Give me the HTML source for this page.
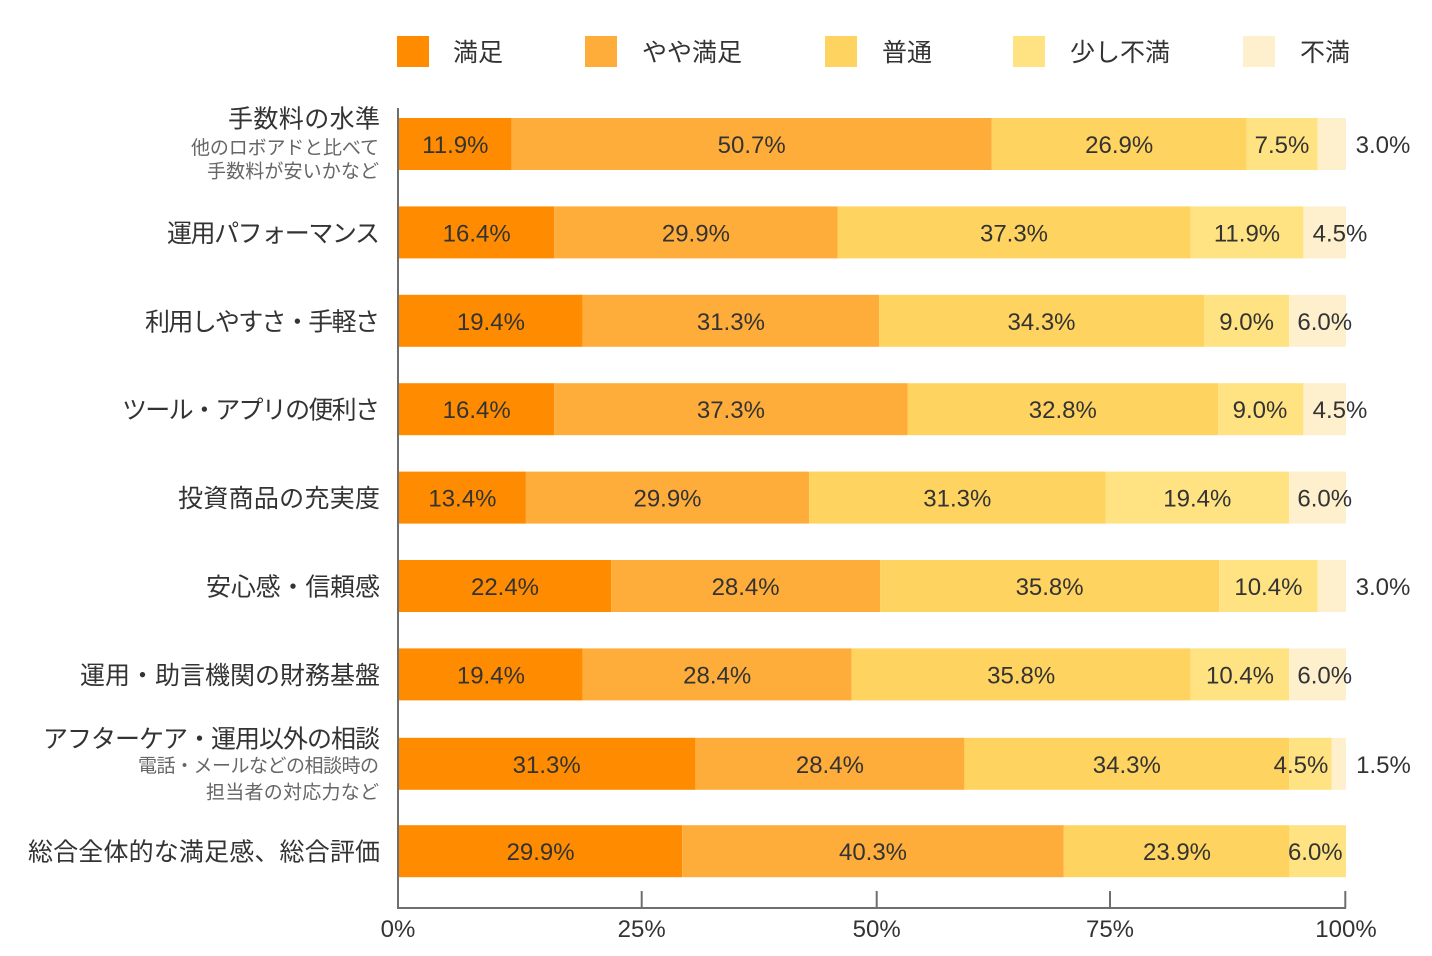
<!DOCTYPE html>
<html><head><meta charset="utf-8"><style>
html,body{margin:0;padding:0;background:#fff;}
svg{display:block;}
text{font-family:"Liberation Sans","Noto Sans CJK JP",sans-serif;}
</style></head><body>
<svg width="1432" height="956" viewBox="0 0 1432 956" xmlns="http://www.w3.org/2000/svg">
<!-- legend -->
<g>
<rect x="397" y="36" width="32" height="31" fill="#FF8C00"/>
<text x="453" y="61" font-size="25" fill="#333">満足</text>
<rect x="585" y="36" width="32" height="31" fill="#FFAD3A"/>
<text x="642" y="61" font-size="25" fill="#333">やや満足</text>
<rect x="825" y="36" width="32" height="31" fill="#FFD35F"/>
<text x="882" y="61" font-size="25" fill="#333">普通</text>
<rect x="1013" y="36" width="32" height="31" fill="#FFE382"/>
<text x="1070" y="61" font-size="25" fill="#333">少し不満</text>
<rect x="1243" y="36" width="32" height="31" fill="#FFF0CD"/>
<text x="1300" y="61" font-size="25" fill="#333">不満</text>
</g>

<!-- bars -->
<g>
<rect x="399" y="118" width="112.7" height="52" fill="#FF8C00"/>
<rect x="511.7" y="118" width="480.1" height="52" fill="#FFAD3A"/>
<rect x="991.8" y="118" width="254.8" height="52" fill="#FFD35F"/>
<rect x="1246.6" y="118" width="71" height="52" fill="#FFE382"/>
<rect x="1317.6" y="118" width="28.4" height="52" fill="#FFF0CD"/>

<rect x="399" y="206.4" width="155.3" height="52" fill="#FF8C00"/>
<rect x="554.3" y="206.4" width="283.2" height="52" fill="#FFAD3A"/>
<rect x="837.5" y="206.4" width="353.2" height="52" fill="#FFD35F"/>
<rect x="1190.7" y="206.4" width="112.7" height="52" fill="#FFE382"/>
<rect x="1303.4" y="206.4" width="42.6" height="52" fill="#FFF0CD"/>

<rect x="399" y="294.8" width="183.7" height="52" fill="#FF8C00"/>
<rect x="582.7" y="294.8" width="296.4" height="52" fill="#FFAD3A"/>
<rect x="879.1" y="294.8" width="324.9" height="52" fill="#FFD35F"/>
<rect x="1204" y="294.8" width="85.2" height="52" fill="#FFE382"/>
<rect x="1289.2" y="294.8" width="56.8" height="52" fill="#FFF0CD"/>

<rect x="399" y="383.2" width="155.3" height="52" fill="#FF8C00"/>
<rect x="554.3" y="383.2" width="353.2" height="52" fill="#FFAD3A"/>
<rect x="907.5" y="383.2" width="310.7" height="52" fill="#FFD35F"/>
<rect x="1218.2" y="383.2" width="85.2" height="52" fill="#FFE382"/>
<rect x="1303.4" y="383.2" width="42.6" height="52" fill="#FFF0CD"/>

<rect x="399" y="471.6" width="126.9" height="52" fill="#FF8C00"/>
<rect x="525.9" y="471.6" width="283.2" height="52" fill="#FFAD3A"/>
<rect x="809.1" y="471.6" width="296.4" height="52" fill="#FFD35F"/>
<rect x="1105.5" y="471.6" width="183.7" height="52" fill="#FFE382"/>
<rect x="1289.2" y="471.6" width="56.8" height="52" fill="#FFF0CD"/>

<rect x="399" y="560" width="212.1" height="52" fill="#FF8C00"/>
<rect x="611.1" y="560" width="269" height="52" fill="#FFAD3A"/>
<rect x="880.1" y="560" width="339" height="52" fill="#FFD35F"/>
<rect x="1219.1" y="560" width="98.5" height="52" fill="#FFE382"/>
<rect x="1317.6" y="560" width="28.4" height="52" fill="#FFF0CD"/>

<rect x="399" y="648.4" width="183.7" height="52" fill="#FF8C00"/>
<rect x="582.7" y="648.4" width="269" height="52" fill="#FFAD3A"/>
<rect x="851.7" y="648.4" width="339" height="52" fill="#FFD35F"/>
<rect x="1190.7" y="648.4" width="98.5" height="52" fill="#FFE382"/>
<rect x="1289.2" y="648.4" width="56.8" height="52" fill="#FFF0CD"/>

<rect x="399" y="737.8" width="296.4" height="52" fill="#FF8C00"/>
<rect x="695.4" y="737.8" width="269" height="52" fill="#FFAD3A"/>
<rect x="964.4" y="737.8" width="324.8" height="52" fill="#FFD35F"/>
<rect x="1289.2" y="737.8" width="42.6" height="52" fill="#FFE382"/>
<rect x="1331.8" y="737.8" width="14.2" height="52" fill="#FFF0CD"/>

<rect x="399" y="825.2" width="283.2" height="52" fill="#FF8C00"/>
<rect x="682.2" y="825.2" width="381.6" height="52" fill="#FFAD3A"/>
<rect x="1063.8" y="825.2" width="225.6" height="52" fill="#FFD35F"/>
<rect x="1289.4" y="825.2" width="56.6" height="52" fill="#FFE382"/>
</g>

<!-- value labels -->
<g font-size="24" fill="#333" text-anchor="middle">
<text x="455.3" y="153">11.9%</text>
<text x="751.7" y="153">50.7%</text>
<text x="1119.2" y="153">26.9%</text>
<text x="1282" y="153">7.5%</text>
<text x="1383" y="153">3.0%</text>

<text x="476.7" y="241.5">16.4%</text>
<text x="695.9" y="241.5">29.9%</text>
<text x="1014" y="241.5">37.3%</text>
<text x="1247" y="241.5">11.9%</text>
<text x="1340" y="241.5">4.5%</text>

<text x="490.9" y="329.8">19.4%</text>
<text x="730.9" y="329.8">31.3%</text>
<text x="1041.5" y="329.8">34.3%</text>
<text x="1246.6" y="329.8">9.0%</text>
<text x="1324.7" y="329.8">6.0%</text>

<text x="476.7" y="418.2">16.4%</text>
<text x="730.9" y="418.2">37.3%</text>
<text x="1062.8" y="418.2">32.8%</text>
<text x="1260" y="418.2">9.0%</text>
<text x="1340" y="418.2">4.5%</text>

<text x="462.4" y="506.6">13.4%</text>
<text x="667.5" y="506.6">29.9%</text>
<text x="957.3" y="506.6">31.3%</text>
<text x="1197.3" y="506.6">19.4%</text>
<text x="1324.7" y="506.6">6.0%</text>

<text x="505" y="595">22.4%</text>
<text x="745.6" y="595">28.4%</text>
<text x="1049.6" y="595">35.8%</text>
<text x="1268.4" y="595">10.4%</text>
<text x="1383" y="595">3.0%</text>

<text x="490.9" y="683.4">19.4%</text>
<text x="717.2" y="683.4">28.4%</text>
<text x="1021.2" y="683.4">35.8%</text>
<text x="1240" y="683.4">10.4%</text>
<text x="1324.7" y="683.4">6.0%</text>

<text x="546.7" y="772.8">31.3%</text>
<text x="829.9" y="772.8">28.4%</text>
<text x="1126.8" y="772.8">34.3%</text>
<text x="1301" y="772.8">4.5%</text>
<text x="1383.5" y="772.8">1.5%</text>

<text x="540.6" y="860.2">29.9%</text>
<text x="873" y="860.2">40.3%</text>
<text x="1177" y="860.2">23.9%</text>
<text x="1315.3" y="860.2">6.0%</text>
</g>

<!-- category labels -->
<g font-size="25" fill="#333" text-anchor="end">
<text x="380" y="127.5" textLength="152" lengthAdjust="spacing">手数料の水準</text>
<text x="380" y="241.9" textLength="213" lengthAdjust="spacing">運用パフォーマンス</text>
<text x="380" y="330.3" textLength="235" lengthAdjust="spacing">利用しやすさ・手軽さ</text>
<text x="380" y="418.7" textLength="258" lengthAdjust="spacing">ツール・アプリの便利さ</text>
<text x="380" y="507.1" textLength="202" lengthAdjust="spacing">投資商品の充実度</text>
<text x="380" y="595.5" textLength="174" lengthAdjust="spacing">安心感・信頼感</text>
<text x="380" y="683.9" textLength="300" lengthAdjust="spacing">運用・助言機関の財務基盤</text>
<text x="380" y="747.5" textLength="337" lengthAdjust="spacing">アフターケア・運用以外の相談</text>
<text x="380" y="860.7" textLength="352" lengthAdjust="spacing">総合全体的な満足感、総合評価</text>
</g>
<g font-size="19" fill="#666" text-anchor="end">
<text x="379" y="154" textLength="188" lengthAdjust="spacing">他のロボアドと比べて</text>
<text x="379" y="177.3" textLength="172" lengthAdjust="spacing">手数料が安いかなど</text>
<text x="379" y="772" textLength="241" lengthAdjust="spacing">電話・メールなどの相談時の</text>
<text x="379" y="798.5" textLength="173" lengthAdjust="spacing">担当者の対応力など</text>
</g>

<!-- axes -->
<g stroke="#6e6e6e" stroke-width="2" fill="none">
<line x1="398" y1="108" x2="398" y2="909"/>
<line x1="397" y1="908" x2="1346" y2="908"/>
<line x1="641.7" y1="891" x2="641.7" y2="908"/>
<line x1="876.7" y1="891" x2="876.7" y2="908"/>
<line x1="1110" y1="891" x2="1110" y2="908"/>
<line x1="1345.3" y1="891" x2="1345.3" y2="908"/>
</g>
<g font-size="24" fill="#333" text-anchor="middle">
<text x="398" y="937">0%</text>
<text x="641.7" y="937">25%</text>
<text x="876.7" y="937">50%</text>
<text x="1110" y="937">75%</text>
<text x="1346" y="937">100%</text>
</g>
</svg>
</body></html>
